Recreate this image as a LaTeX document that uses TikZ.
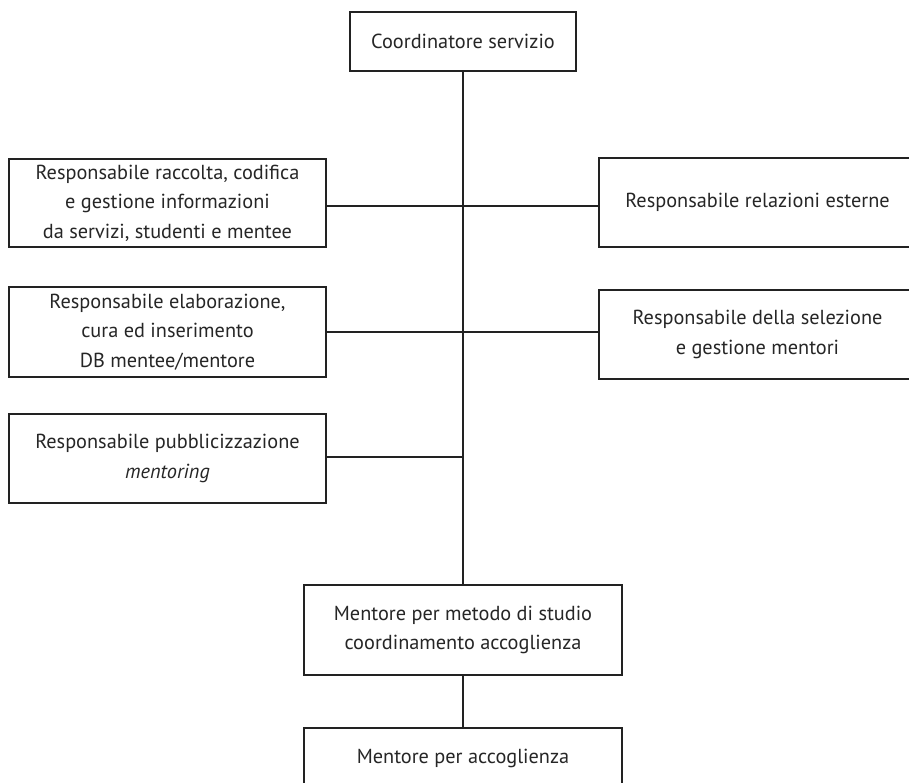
\documentclass[tikz,border=0pt]{standalone}
\usepackage{fontspec}
\setmainfont{PT Sans}
\definecolor{txt}{HTML}{262626}
\definecolor{ln}{HTML}{222222}
\begin{document}
\begin{tikzpicture}[x=1pt,y=-1pt,
  box/.style={draw=ln,line width=1.4pt,fill=white,align=center,inner sep=0pt,
    text=txt,font=\fontsize{20.3}{29.5}\selectfont},
  conn/.style={draw=ln,line width=1.4pt}]
\useasboundingbox (0,0) rectangle (909,783);
\clip (0,0) rectangle (909,783);
\fill[white] (0,0) rectangle (909,783);
\node[box,minimum width=226pt,minimum height=59pt] (top) at (463,41.5) {Coordinatore servizio};
\node[box,minimum width=317pt,minimum height=88pt] (l1) at (167.5,203) {Responsabile raccolta, codifica\\e gestione informazioni\\da servizi, studenti e mentee};
\node[box,minimum width=317pt,minimum height=90pt] (l2) at (167.5,332) {Responsabile elaborazione,\\cura ed inserimento\\DB mentee/mentore};
\node[box,minimum width=317pt,minimum height=89pt] (l3) at (167.5,458.5) {Responsabile pubblicizzazione\\\textit{mentoring}};
\node[box,minimum width=317pt,minimum height=89pt] (r1) at (757.5,202.5) {Responsabile relazioni esterne};
\node[box,minimum width=317pt,minimum height=89pt] (r2) at (757.5,334.5) {Responsabile della selezione\\e gestione mentori};
\node[box,minimum width=318pt,minimum height=90pt] (m1) at (463,630) {Mentore per metodo di studio\\coordinamento accoglienza};
\node[box,minimum width=318pt,minimum height=60pt] (m2) at (463,758) {Mentore per accoglienza};
\coordinate (s1) at (462,206);
\coordinate (s2) at (462,332);
\coordinate (s3) at (462,457);
\draw[conn] (top.south) -- (m1.north);
\draw[conn] (m1.south) -- (m2.north);
\draw[conn] (l1.east |- s1) -- (s1);
\draw[conn] (s1) -- (r1.west |- s1);
\draw[conn] (l2.east |- s2) -- (s2);
\draw[conn] (s2) -- (r2.west |- s2);
\draw[conn] (l3.east |- s3) -- (s3);
\end{tikzpicture}
\end{document}
